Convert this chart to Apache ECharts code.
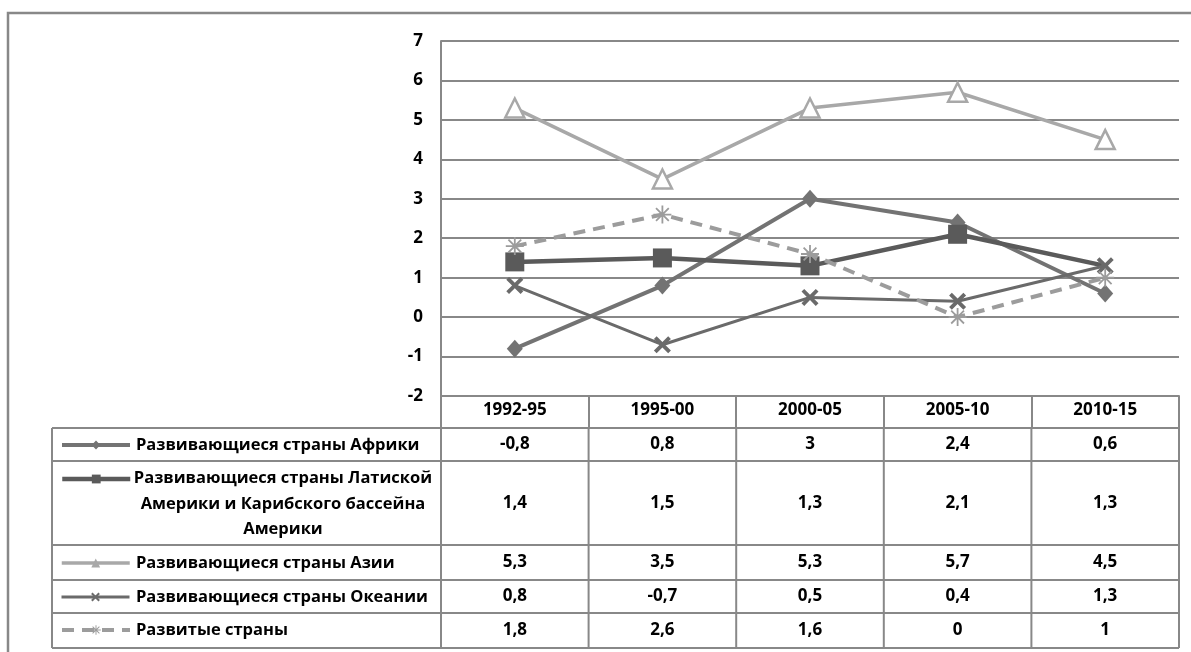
<!DOCTYPE html>
<html>
<head>
<meta charset="utf-8">
<script src="https://cdn.jsdelivr.net/npm/echarts@6/dist/echarts.min.js"></script>
<style>
  html, body { margin: 0; padding: 0; background: #fff; }
  #chart { width: 1191px; height: 652px; }
</style>
</head>
<body>
<div id="chart"></div>
<script>
// периоды
const categories = ['1992-95', '1995-00', '2000-05', '2005-10', '2010-15'];

// ряды
const africa    = [-0.8, 0.8, 3, 2.4, 0.6];
const latam     = [1.4, 1.5, 1.3, 2.1, 1.3];
const asia      = [5.3, 3.5, 5.3, 5.7, 4.5];
const oceania   = [0.8, -0.7, 0.5, 0.4, 1.3];
const developed = [1.8, 2.6, 1.6, 0, 1];

const seriesNames = [
    'Развивающиеся страны Африки',
    'Развивающиеся страны Латиской\nАмерики и Карибского бассейна\nАмерики',
    'Развивающиеся страны Азии',
    'Развивающиеся страны Океании',
    'Развитые страны'
];

// ось Y
const yMin = -2;
const yMax = 7;
const yStep = 1;

const FONT = '"Open Sans", "Noto Sans", sans-serif';
const GRID = '#888888';

// границы строк таблицы (px)
const rowEdges = [428, 461, 545, 580, 613, 648];
const tableLeft = 52;

const crossPath = 'path://M0,1.6 L1.6,0 L5,3.4 L8.4,0 L10,1.6 L6.6,5 L10,8.4 L8.4,10 L5,6.6 L1.6,10 L0,8.4 L3.4,5 Z';
const starPath = 'path://M0,9 H20 V11 H0 Z M9,0 H11 V20 H9 Z M2.2,3.6 L3.6,2.2 L17.8,16.4 L16.4,17.8 Z M16.4,2.2 L17.8,3.6 L3.6,17.8 L2.2,16.4 Z';

const seriesStyle = [
    { data: africa, symbol: 'diamond', symbolSize: [16, 18], legendSize: 11, color: '#737373', width: 4 },
    { data: latam, symbol: 'rect', symbolSize: 19, legendSize: 11, color: '#5a5a5a', width: 4.5 },
    { data: asia, symbol: 'triangle', symbolSize: 19, legendSize: 11, color: '#a8a8a8', width: 3.5, empty: true },
    { data: oceania, symbol: crossPath, symbolSize: 17, legendSize: 11, color: '#6a6a6a', width: 3 },
    { data: developed, symbol: starPath, symbolSize: 18, legendSize: 12, color: '#9c9c9c', width: 4, dashed: true }
];

const chart = echarts.init(document.getElementById('chart'), null, { renderer: 'canvas' });

const series = seriesStyle.map((s, i) => ({
    name: seriesNames[i],
    type: 'line',
    // у ряда Латинской Америки последняя точка без маркера, как в оригинале
    data: s.data.map((v, j) => (i === 1 && j === s.data.length - 1) ? { value: v, symbol: 'none' } : v),
    symbol: s.symbol,
    symbolSize: s.symbolSize,
    showAllSymbol: true,
    animation: false,
    z: 3 + i,
    lineStyle: {
        color: s.color,
        width: s.width,
        type: s.dashed ? [12, 8] : 'solid'
    },
    itemStyle: s.empty
        ? { color: '#fff', borderColor: s.color, borderWidth: 2.5 }
        : { color: s.color, borderWidth: 0 }
}));

// иконки легенды - отдельная легенда на каждую строку таблицы
const legendTops = [445, 479, 563, 597, 630];
const legends = seriesNames.map((name, i) => ({
    data: [{
        name: name,
        itemStyle: { color: seriesStyle[i].color, borderWidth: 0 }
    }],
    left: 60,
    top: legendTops[i] - seriesStyle[i].legendSize / 2,
    padding: 0,
    itemWidth: 68,
    itemHeight: seriesStyle[i].legendSize,
    itemGap: 0,
    selectedMode: false,
    formatter: () => '',
    textStyle: { fontSize: 1 },
    lineStyle: {
        width: seriesStyle[i].width,
        color: seriesStyle[i].color,
        type: seriesStyle[i].dashed ? [12, 8] : 'solid'
    }
}));

chart.setOption({
    animation: false,
    legend: legends,
    grid: { left: 441, right: 12, top: 41, bottom: 256, containLabel: false },
    xAxis: {
        type: 'category',
        data: categories,
        boundaryGap: true,
        axisLine: { show: true, onZero: false, lineStyle: { color: GRID, width: 2 } },
        axisTick: { show: true, interval: 0, length: 32, lineStyle: { color: GRID, width: 2 } },
        axisLabel: {
            interval: 0,
            margin: 6,
            color: '#000',
            fontWeight: 'bold',
            fontSize: 17,
            fontFamily: FONT
        }
    },
    yAxis: {
        type: 'value',
        min: yMin,
        max: yMax,
        interval: yStep,
        axisLine: { show: true, lineStyle: { color: GRID, width: 2 } },
        axisTick: { show: false },
        splitLine: { lineStyle: { color: GRID, width: 2 } },
        axisLabel: {
            margin: 18,
            color: '#000',
            fontWeight: 'bold',
            fontSize: 17,
            fontFamily: FONT
        }
    },
    series: series
});

// таблица данных под графиком
function buildTable() {
    const graphic = [];
    const lineStyle = { stroke: GRID, lineWidth: 2 };
    const centers = categories.map(c => chart.convertToPixel({ xAxisIndex: 0 }, c));
    const colW = centers[1] - centers[0];
    const plotLeft = centers[0] - colW / 2;
    const plotRight = centers[centers.length - 1] + colW / 2;

    // внешняя рамка
    graphic.push({
        type: 'rect', silent: true, z: 0,
        shape: { x: 8, y: 13, width: 1300, height: 800 },
        style: { fill: 'none', stroke: '#888', lineWidth: 2.5 }
    });

    // горизонтальные линии
    rowEdges.forEach(y => {
        graphic.push({
            type: 'line', silent: true,
            shape: { x1: tableLeft, y1: y, x2: plotRight, y2: y },
            style: lineStyle
        });
    });
    // вертикальные линии
    const top = rowEdges[0], bottom = rowEdges[rowEdges.length - 1];
    const xs = [tableLeft, plotLeft].concat(centers.map(c => c + colW / 2));
    xs.forEach(x => {
        graphic.push({
            type: 'line', silent: true,
            shape: { x1: x, y1: top, x2: x, y2: bottom },
            style: lineStyle
        });
    });

    // подписи рядов
    seriesNames.forEach((name, i) => {
        const multi = name.indexOf('\n') >= 0;
        graphic.push({
            type: 'text', silent: true,
            style: multi ? {
                text: name, x: 283, y: legendTops[i] - 13,
                align: 'center', verticalAlign: 'top', lineHeight: 25.5,
                font: 'bold 16.5px ' + FONT, fill: '#000'
            } : {
                text: name, x: 136, y: legendTops[i],
                align: 'left', verticalAlign: 'middle',
                font: 'bold 16.5px ' + FONT, fill: '#000'
            }
        });
    });

    // значения
    seriesStyle.forEach((s, i) => {
        const yMid = (rowEdges[i] + rowEdges[i + 1]) / 2;
        s.data.forEach((v, j) => {
            graphic.push({
                type: 'text', silent: true,
                style: {
                    text: String(v).replace('.', ','),
                    x: centers[j], y: yMid,
                    align: 'center', verticalAlign: 'middle',
                    font: 'bold 17px ' + FONT, fill: '#000'
                }
            });
        });
    });

    chart.setOption({ graphic: graphic });
}

buildTable();
</script>
</body>
</html>
